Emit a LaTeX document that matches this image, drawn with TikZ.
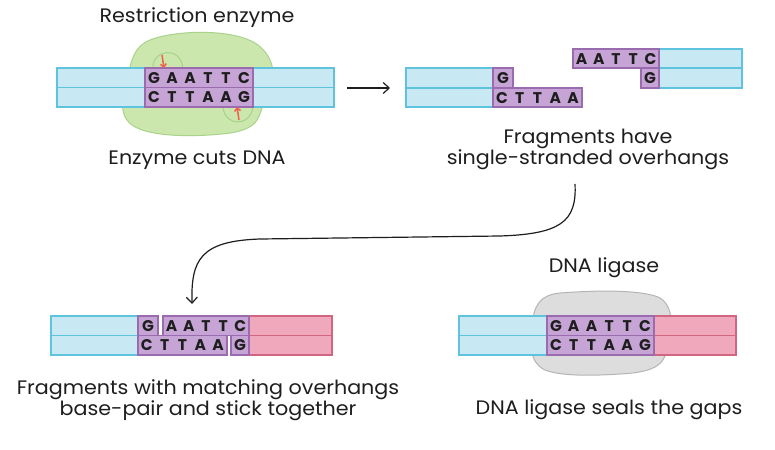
\documentclass[tikz,border=0pt]{standalone}
\usepackage{fontspec}
\setmainfont{Poppins}
\newfontfamily\lblfont[FakeStretch=1.06]{Poppins}
\usetikzlibrary{arrows.meta}
\definecolor{bluef}{HTML}{C8E9F3}
\definecolor{blued}{HTML}{5EC3DD}
\definecolor{purf}{HTML}{C6A5D6}
\definecolor{purd}{HTML}{9A6BAF}
\definecolor{pinkf}{HTML}{F0A9BC}
\definecolor{pinkd}{HTML}{D2657F}
\definecolor{greenf}{HTML}{CBE7AE}
\definecolor{greend}{HTML}{A9D38B}
\definecolor{grayf}{HTML}{DDDDDD}
\definecolor{grayd}{HTML}{B5B5B5}
\definecolor{ink}{HTML}{1E1E1E}
\definecolor{redarr}{HTML}{F0604A}
\tikzset{
  bluebox/.style={fill=bluef, draw=blued, line width=1.3pt},
  purbox/.style={fill=purf, draw=purd, line width=1.3pt},
  pinkbox/.style={fill=pinkf, draw=pinkd, line width=1.3pt},
  base/.style={font=\fontsize{15.5}{15.5}\selectfont\bfseries, text=ink, inner sep=0pt, anchor=center},
  lbl/.style={font=\lblfont\fontsize{19.5}{19}\selectfont, text=ink, align=center, inner sep=0pt},
  conn/.style={draw=ink, line width=1.2pt, -{Straight Barb[length=6pt,width=11pt,line width=1.2pt]}},
  redconn/.style={draw=redarr, line width=1.5pt, -{Straight Barb[length=3pt,width=6pt]}},
}
\begin{document}
\begin{tikzpicture}[x=1pt,y=-1pt]
\useasboundingbox[fill=white] (0,0) rectangle (775,449);

% ---------- Panel 1 : restriction enzyme ----------
\draw[fill=greenf, draw=greend, line width=1pt]
  (150,40) .. controls (175,30) and (235,28) .. (258,45)
  .. controls (275,58) and (278,80) .. (265,100)
  .. controls (258,115) and (262,128) .. (230,133)
  .. controls (200,137) and (150,138) .. (132,125)
  .. controls (118,115) and (122,95) .. (128,75)
  .. controls (132,58) and (135,46) .. (150,40) -- cycle;
\draw[greend, line width=1.1pt] (153,68) .. controls (152,50) and (180,45) .. (183,68);
\draw[greend, line width=1.1pt] (223,107) .. controls (225,127) and (250,127) .. (253,107);
\draw[bluebox] (57,68) rectangle (334,87.5);
\draw[bluebox] (57,87.5) rectangle (334,107);
\draw[purbox] (145,68) rectangle (253,87.5);
\draw[purbox] (145,87.5) rectangle (253,107);
\foreach \ch [count=\i] in {G,A,A,T,T,C}
  \node[base] (pa\i) at (145+18*\i-9, 77.8) {\ch};
\foreach \ch [count=\i] in {C,T,T,A,A,G}
  \node[base] (pb\i) at (145+18*\i-9, 97.3) {\ch};
\coordinate (r1s) at (162,55);
\coordinate (r1e) at (164,68);
\coordinate (r2s) at (239,120);
\coordinate (r2e) at (237,107);
\draw[redconn] (r1s) -- (r1e);
\draw[redconn] (r2s) -- (r2e);
\node[lbl] (t1) at (197,18) {Restriction enzyme};
\node[lbl] (t2) at (197,160) {Enzyme cuts DNA};

% arrow 1 -> 2
\coordinate (a1s) at (347,88);
\coordinate (a1e) at (390,88);
\draw[conn] (a1s) -- (a1e);

% ---------- Panel 2 : fragments ----------
\draw[bluebox] (406,68) rectangle (493,88);
\draw[bluebox] (406,88) rectangle (493,107);
\draw[purbox] (493,68) rectangle (513,88);
\draw[purbox] (493,88) rectangle (582,107);
\node[base] (qa1) at (503,78.3) {G};
\foreach \ch [count=\i] in {C,T,T,A,A}
  \node[base] (qb\i) at (493+17.8*\i-8.9, 97.8) {\ch};
\draw[bluebox] (659,49) rectangle (742,68);
\draw[bluebox] (659,68) rectangle (742,88);
\draw[purbox] (573,49) rectangle (659,68);
\draw[purbox] (641,68) rectangle (659,88);
\foreach \ch [count=\i] in {A,A,T,T,C}
  \node[base] (ra\i) at (573+17.2*\i-8.6, 58.8) {\ch};
\node[base] (rb1) at (650,78.3) {G};
\node[lbl] (t3) at (588,149) {Fragments have\\single-stranded overhangs};

% curved arrow 2 -> 3
\coordinate (a2s) at (575,184);
\coordinate (a2e) at (192,304);
\draw[conn] (a2s) .. controls (577,222) and (560,234) .. (500,236)
  -- (260,239) .. controls (200,241) and (191,260) .. (a2e);

% ---------- Panel 3 : annealed fragments ----------
\draw[bluebox] (51,316) rectangle (138,335.5);
\draw[bluebox] (51,335.5) rectangle (138,355);
\draw[pinkbox] (249,316) rectangle (332,335.5);
\draw[pinkbox] (249,335.5) rectangle (332,355);
\draw[purbox] (138,316) rectangle (158,335.5);
\draw[purbox] (163,316) rectangle (249,335.5);
\draw[purbox] (138,335.5) rectangle (227,355);
\draw[purbox] (231,335.5) rectangle (249,355);
\node[base] (sa1) at (148,326) {G};
\foreach \ch [count=\i] in {A,A,T,T,C}
  \node[base] (sa\the\numexpr\i+1\relax) at (163+17.2*\i-8.6, 326) {\ch};
\foreach \ch [count=\i] in {C,T,T,A,A}
  \node[base] (sb\i) at (138+17.8*\i-8.9, 345.5) {\ch};
\node[base] (sb6) at (240,345.5) {G};
\node[lbl] (t4) at (208,400) {Fragments with matching overhangs\\base-pair and stick together};

% ---------- Panel 4 : ligase ----------
\draw[fill=grayf, draw=grayd, line width=1pt]
  (560,293) .. controls (600,290) and (640,290) .. (658,297)
  .. controls (675,305) and (672,330) .. (668,345)
  .. controls (665,362) and (660,372) .. (620,374)
  .. controls (590,376) and (560,376) .. (545,370)
  .. controls (528,362) and (530,340) .. (532,325)
  .. controls (534,305) and (540,295) .. (560,293) -- cycle;
\draw[bluebox] (459,316) rectangle (547,335.5);
\draw[bluebox] (459,335.5) rectangle (547,355);
\draw[pinkbox] (654,316) rectangle (736,335.5);
\draw[pinkbox] (654,335.5) rectangle (736,355);
\draw[purbox] (547,316) rectangle (654,335.5);
\draw[purbox] (547,335.5) rectangle (654,355);
\foreach \ch [count=\i] in {G,A,A,T,T,C}
  \node[base] (ua\i) at (547+17.8*\i-8.9, 326) {\ch};
\foreach \ch [count=\i] in {C,T,T,A,A,G}
  \node[base] (ub\i) at (547+17.8*\i-8.9, 345.5) {\ch};
\node[lbl] (t5) at (604,268) {DNA ligase};
\node[lbl] (t6) at (609,410) {DNA ligase seals the gaps};
\end{tikzpicture}
\end{document}
